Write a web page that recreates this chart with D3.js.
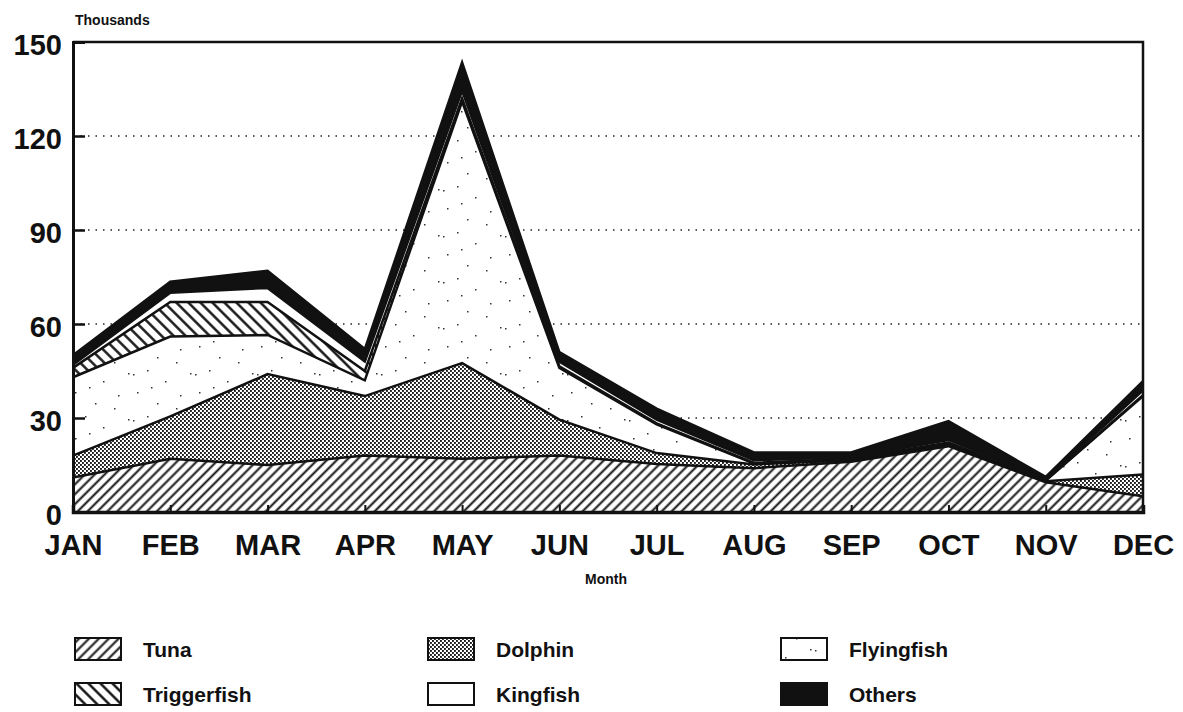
<!DOCTYPE html>
<html lang="en">
<head>
  <meta charset="UTF-8">
  <title>Fish landings by month</title>
  <script src="https://d3js.org/d3.v7.min.js"></script>
  <style>
    body { margin: 0; background: #fff; }
    text { font-family: "Liberation Sans", Arial, sans-serif; font-weight: bold; fill: #111; }
  </style>
</head>
<body>
<svg width="1183" height="712"></svg>
<script>
  // data (thousands)
  const months = ["JAN", "FEB", "MAR", "APR", "MAY", "JUN", "JUL", "AUG", "SEP", "OCT", "NOV", "DEC"];
  const tuna        = [11, 17, 15, 18, 17, 18, 15.3, 14, 16, 21, 9.5, 5];
  const dolphin     = [7, 13.5, 29, 19, 30.5, 11.5, 3.5, 1.2, 0.5, 0.5, 0.3, 7];
  const flyingfish  = [25, 25.5, 12.5, 5, 83.5, 16.5, 9.2, 0.3, 0.3, 0.5, 0.2, 25];
  const triggerfish = [3, 11, 10.5, 3, 1, 0.5, 0.3, 0.2, 0.2, 0.2, 0.1, 0.3];
  const kingfish    = [1, 3, 4.5, 3, 2.5, 1.5, 1.2, 0.8, 0.5, 0.8, 0.3, 1.5];
  const others      = [3, 3.5, 5.5, 4, 9, 3, 3.5, 2.5, 1.5, 6, 0.8, 3];
  const yTicks = [0, 30, 60, 90, 120, 150];

  const keys = ["Tuna", "Dolphin", "Flyingfish", "Triggerfish", "Kingfish", "Others"];
  const series = [tuna, dolphin, flyingfish, triggerfish, kingfish, others];
  const rows = months.map(function(m, i) {
    const r = { month: m };
    keys.forEach(function(k, j) { r[k] = series[j][i]; });
    return r;
  });

  const svg = d3.select("svg");
  const plotL = 73, plotR = 1143, plotT = 42, plotB = 512;

  const x = d3.scalePoint().domain(months).range([plotL, plotR]);
  const y = d3.scaleLinear().domain([0, 150]).range([plotB, plotT]);

  // patterns
  const defs = svg.append("defs");

  function hatch(id, size, angle, width) {
    const p = defs.append("pattern")
      .attr("id", id)
      .attr("patternUnits", "userSpaceOnUse")
      .attr("width", size).attr("height", size)
      .attr("patternTransform", "rotate(" + angle + ")");
    p.append("rect").attr("width", size).attr("height", size).attr("fill", "#fff");
    p.append("line")
      .attr("x1", size / 2).attr("y1", 0)
      .attr("x2", size / 2).attr("y2", size)
      .attr("stroke", "#111").attr("stroke-width", width);
  }
  hatch("p-tuna", 7, 45, 2);
  hatch("p-trigger", 8.5, -45, 2.4);

  const dot = defs.append("pattern")
    .attr("id", "p-dolphin")
    .attr("patternUnits", "userSpaceOnUse")
    .attr("width", 4).attr("height", 4);
  dot.append("rect").attr("width", 4).attr("height", 4).attr("fill", "#fff");
  dot.append("rect").attr("x", 0).attr("y", 0).attr("width", 1.9).attr("height", 1.9).attr("fill", "#1a1a1a");
  dot.append("rect").attr("x", 2).attr("y", 2).attr("width", 1.9).attr("height", 1.9).attr("fill", "#1a1a1a");

  const stip = defs.append("pattern")
    .attr("id", "p-flying")
    .attr("patternUnits", "userSpaceOnUse")
    .attr("width", 62).attr("height", 46);
  stip.append("rect").attr("width", 62).attr("height", 46).attr("fill", "#fff");
  [[4, 5], [23, 2], [41, 13], [13, 24], [33, 35], [52, 40], [27, 19], [9, 6], [56, 27]].forEach(function(d) {
    stip.append("rect").attr("x", d[0]).attr("y", d[1]).attr("width", 1.5).attr("height", 1.5).attr("fill", "#333");
  });

  const fills = {
    Tuna: "url(#p-tuna)",
    Dolphin: "url(#p-dolphin)",
    Flyingfish: "url(#p-flying)",
    Triggerfish: "url(#p-trigger)",
    Kingfish: "#fff",
    Others: "#111"
  };

  // dotted grid
  svg.append("g")
    .selectAll("line")
    .data([30, 60, 90, 120])
    .enter().append("line")
      .attr("x1", plotL).attr("x2", plotR)
      .attr("y1", function(d) { return y(d); })
      .attr("y2", function(d) { return y(d); })
      .attr("stroke", "#222")
      .attr("stroke-width", 1.5)
      .attr("stroke-dasharray", "1.5,6");

  const stacked = d3.stack().keys(keys)(rows);

  const area = d3.area()
    .x(function(d) { return x(d.data.month); })
    .y0(function(d) { return y(d[0]); })
    .y1(function(d) { return y(d[1]); });

  const line = d3.line()
    .x(function(d) { return x(d.data.month); })
    .y(function(d) { return y(d[1]); });

  const g = svg.append("g");
  g.selectAll(".area")
    .data(stacked)
    .enter().append("path")
      .attr("class", "area")
      .attr("d", area)
      .attr("fill", function(d) { return fills[d.key]; });

  g.selectAll(".edge")
    .data(stacked)
    .enter().append("path")
      .attr("class", "edge")
      .attr("d", line)
      .attr("fill", "none")
      .attr("stroke", "#111")
      .attr("stroke-width", 2.5)
      .attr("stroke-linejoin", "miter");

  // frame
  svg.append("path")
    .attr("d", "M" + plotL + "," + plotT + "H" + plotR + "V" + plotB)
    .attr("fill", "none")
    .attr("stroke", "#111")
    .attr("stroke-width", 2.5);

  // axes
  const yAxis = svg.append("g")
    .attr("transform", "translate(" + plotL + ",0)")
    .call(d3.axisLeft(y).tickValues(yTicks).tickSize(-12).tickPadding(11));
  yAxis.select(".domain").attr("stroke-width", 3).attr("stroke", "#111");
  yAxis.selectAll(".tick line").attr("stroke-width", 2.5).attr("stroke", "#111");
  yAxis.selectAll(".tick text")
    .attr("font-size", "29px")
    .attr("font-family", "Liberation Sans, Arial, sans-serif")
    .attr("font-weight", "bold")
    .attr("fill", "#111")
    .attr("dy", "0.42em");

  const xAxis = svg.append("g")
    .attr("transform", "translate(0," + plotB + ")")
    .call(d3.axisBottom(x).tickSize(-7).tickPadding(22));
  xAxis.select(".domain").attr("stroke-width", 3.5).attr("stroke", "#111");
  xAxis.selectAll(".tick line").attr("stroke-width", 2).attr("stroke", "#111");
  xAxis.selectAll(".tick text")
    .attr("font-size", "29px")
    .attr("font-family", "Liberation Sans, Arial, sans-serif")
    .attr("font-weight", "bold")
    .attr("fill", "#111");

  // titles
  svg.append("text")
    .attr("x", 75).attr("y", 25)
    .attr("font-size", "14px")
    .text("Thousands");

  svg.append("text")
    .attr("x", 606).attr("y", 584)
    .attr("text-anchor", "middle")
    .attr("font-size", "14px")
    .text("Month");

  // legend
  const legendOrder = ["Tuna", "Dolphin", "Flyingfish", "Triggerfish", "Kingfish", "Others"];
  const colX = [75, 428, 781];
  const rowY = [638, 683];
  const lg = svg.append("g");
  legendOrder.forEach(function(k, i) {
    const cx = colX[i % 3], cy = rowY[Math.floor(i / 3)];
    lg.append("rect")
      .attr("x", cx).attr("y", cy)
      .attr("width", 46).attr("height", 22)
      .attr("fill", fills[k])
      .attr("stroke", "#111")
      .attr("stroke-width", 2);
    lg.append("text")
      .attr("x", cx + 68).attr("y", cy + 19)
      .attr("font-size", "21px")
      .text(k);
  });
</script>
</body>
</html>
